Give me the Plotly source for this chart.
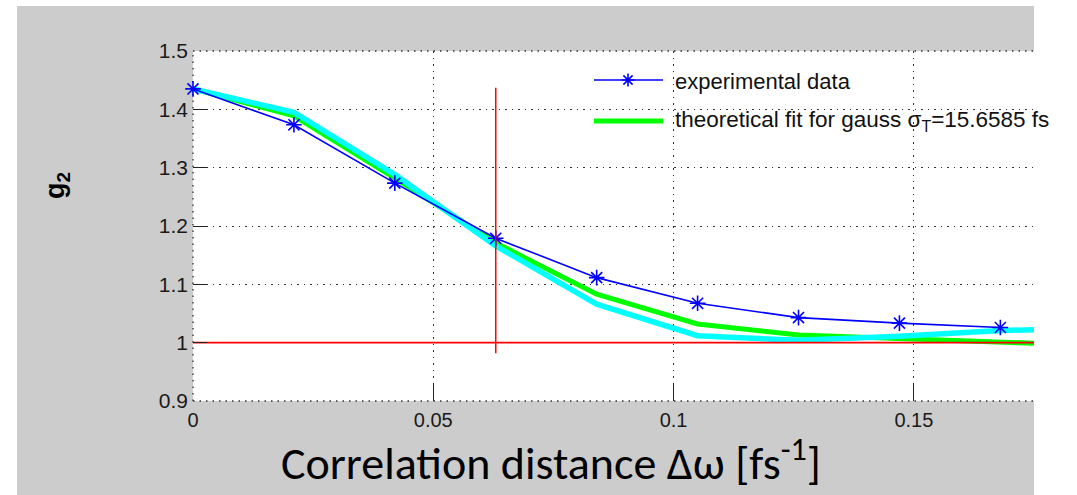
import plotly.graph_objects as go

# ---------------- data ----------------
x_exp = [0.0, 0.021, 0.042, 0.063, 0.084, 0.105, 0.126, 0.147, 0.168]
g2_exp = [1.435, 1.3735, 1.2735, 1.179, 1.1115, 1.0675, 1.043, 1.0335, 1.026]

x_fit = [0.0, 0.021, 0.042, 0.063, 0.084, 0.105, 0.126, 0.147, 0.168, 0.175]
g2_fit_gauss = [1.435, 1.389, 1.282, 1.171, 1.083, 1.032, 1.013, 1.007, 1.003, 0.999]
g2_fit_alt = [1.435, 1.395, 1.288, 1.166, 1.066, 1.012, 1.004, 1.011, 1.021, 1.022]

x_baseline = [0.0, 0.175]
g2_baseline = [1.0, 1.0]

x_marker_line = [0.063, 0.063]
g2_marker_line = [0.982, 1.437]

x_tickvals = [0, 0.05, 0.1, 0.15]
x_ticktext = ["0", "0.05", "0.1", "0.15"]
y_tickvals = [0.9, 1.0, 1.1, 1.2, 1.3, 1.4, 1.5]
y_ticktext = ["0.9", "1", "1.1", "1.2", "1.3", "1.4", "1.5"]

legend_labels = ["experimental data", "theoretical fit for gauss σ<sub>T</sub>=15.6585 fs"]

# ---------------- layout geometry ----------------
W, H = 1077, 495
L, R, T, B = 193, 1034, 51, 401
GRID_DASH = "1.5px,5px"
GRID_COLOR = "#333333"


def px_x(p):
    return (p - L) / (R - L)


def px_y(p):
    return (B - p) / (B - T)


fig = go.Figure()

fig.add_trace(go.Scatter(x=x_fit, y=g2_fit_gauss, mode="lines",
                         line=dict(color="#00ff00", width=5), showlegend=False))
fig.add_trace(go.Scatter(x=x_fit, y=g2_fit_alt, mode="lines",
                         line=dict(color="#00ffff", width=5.5), showlegend=False))
fig.add_trace(go.Scatter(x=x_exp, y=g2_exp, mode="lines+markers",
                         line=dict(color="#0000ff", width=1.6),
                         marker=dict(symbol="asterisk-open", size=13,
                                     line=dict(color="#0000ff", width=1.6)),
                         cliponaxis=False, showlegend=False))
fig.add_trace(go.Scatter(x=x_baseline, y=g2_baseline, mode="lines",
                         line=dict(color="#ff0000", width=1.8), showlegend=False))
fig.add_trace(go.Scatter(x=x_marker_line, y=g2_marker_line, mode="lines",
                         line=dict(color="#ff0000", width=1.5), showlegend=False))

tickfont = dict(family="Liberation Sans, Arial, sans-serif", color="#1a1a1a")

fig.update_layout(
    width=W, height=H,
    margin=dict(l=L, r=W - R, t=T, b=H - B, pad=0),
    paper_bgcolor="#cccccc",
    plot_bgcolor="#ffffff",
    showlegend=False,
    xaxis=dict(range=[0, 0.175], tickmode="array", tickvals=x_tickvals, ticktext=x_ticktext,
               ticks="inside", ticklen=18, tickwidth=1.3, tickcolor="#222222",
               showgrid=True, gridcolor=GRID_COLOR, gridwidth=1.3, griddash=GRID_DASH,
               zeroline=False, showline=False, ticklabelstandoff=5,
               tickfont=dict(size=20, **tickfont)),
    yaxis=dict(range=[0.9, 1.5], tickmode="array", tickvals=y_tickvals, ticktext=y_ticktext,
               ticks="inside", ticklen=14, tickwidth=1.3, tickcolor="#222222",
               showgrid=True, gridcolor=GRID_COLOR, gridwidth=1.3, griddash=GRID_DASH,
               zeroline=False, showline=False, ticklabelstandoff=4,
               tickfont=dict(size=21, **tickfont)),
)

shapes = []
# white surroundings of the grey figure
shapes.append(dict(type="rect", xref="paper", yref="paper", x0=px_x(0), x1=px_x(17), y0=px_y(H), y1=px_y(0),
                   fillcolor="#ffffff", line=dict(width=0), layer="below"))
shapes.append(dict(type="rect", xref="paper", yref="paper", x0=px_x(0), x1=px_x(W), y0=px_y(6), y1=px_y(0),
                   fillcolor="#ffffff", line=dict(width=0), layer="below"))
shapes.append(dict(type="rect", xref="paper", yref="paper", x0=px_x(R), x1=px_x(W), y0=px_y(H), y1=px_y(0),
                   fillcolor="#ffffff", line=dict(width=0), layer="below"))
# dotted box edges (left, bottom, top) like MATLAB's grid at the limits
shapes.append(dict(type="line", xref="paper", yref="paper", x0=0, x1=0, y0=0, y1=1,
                   line=dict(color=GRID_COLOR, width=1.3, dash=GRID_DASH), layer="between"))
shapes.append(dict(type="line", xref="paper", yref="paper", x0=0, x1=1, y0=0, y1=0,
                   line=dict(color=GRID_COLOR, width=1.3, dash=GRID_DASH), layer="between"))
shapes.append(dict(type="line", xref="paper", yref="paper", x0=0, x1=1, y0=1, y1=1,
                   line=dict(color=GRID_COLOR, width=1.3, dash=GRID_DASH), layer="between"))
# legend box
shapes.append(dict(type="rect", xref="paper", yref="paper", x0=px_x(578), x1=px_x(W), y0=px_y(156), y1=px_y(53),
                   fillcolor="#ffffff", line=dict(width=0), layer="between"))
# legend samples
shapes.append(dict(type="line", xref="paper", yref="paper", x0=px_x(594), x1=px_x(663), y0=px_y(80), y1=px_y(80),
                   line=dict(color="#0000ff", width=1.6)))
cx, cy, r = 628, 80, 6.5
d = r * 0.7071
star_path = (f"M{px_x(cx - r)},{px_y(cy)} L{px_x(cx + r)},{px_y(cy)} "
             f"M{px_x(cx)},{px_y(cy - r)} L{px_x(cx)},{px_y(cy + r)} "
             f"M{px_x(cx - d)},{px_y(cy - d)} L{px_x(cx + d)},{px_y(cy + d)} "
             f"M{px_x(cx - d)},{px_y(cy + d)} L{px_x(cx + d)},{px_y(cy - d)}")
shapes.append(dict(type="path", xref="paper", yref="paper", path=star_path,
                   line=dict(color="#0000ff", width=1.6)))
shapes.append(dict(type="line", xref="paper", yref="paper", x0=px_x(594), x1=px_x(663), y0=px_y(121), y1=px_y(121),
                   line=dict(color="#00ff00", width=5)))
fig.update_layout(shapes=shapes)

annotations = [
    dict(text=legend_labels[0], xref="paper", yref="paper", x=px_x(673), y=px_y(81),
         xanchor="left", yanchor="middle", showarrow=False,
         font=dict(family="Liberation Sans, Arial, sans-serif", size=22, color="#111111")),
    dict(text=legend_labels[1], xref="paper", yref="paper", x=px_x(673), y=px_y(121),
         xanchor="left", yanchor="middle", showarrow=False,
         font=dict(family="Liberation Sans, Arial, sans-serif", size=22.5, color="#111111")),
    dict(text="Correlation distance Δω [fs<sup>-1</sup>]", xref="paper", yref="paper",
         x=px_x(551), y=px_y(460), xanchor="center", yanchor="middle", showarrow=False,
         font=dict(family="Carlito, Calibri, Lato, sans-serif", size=46, color="#000000")),
    dict(text="g<sub>2</sub>", xref="paper", yref="paper", textangle=-90,
         x=px_x(57), y=px_y(186), xanchor="center", yanchor="middle", showarrow=False,
         font=dict(family="Liberation Sans, Arial, sans-serif", size=27, color="#000000", weight="bold")),
]
fig.update_layout(annotations=annotations)

fig.write_html("out.html")
